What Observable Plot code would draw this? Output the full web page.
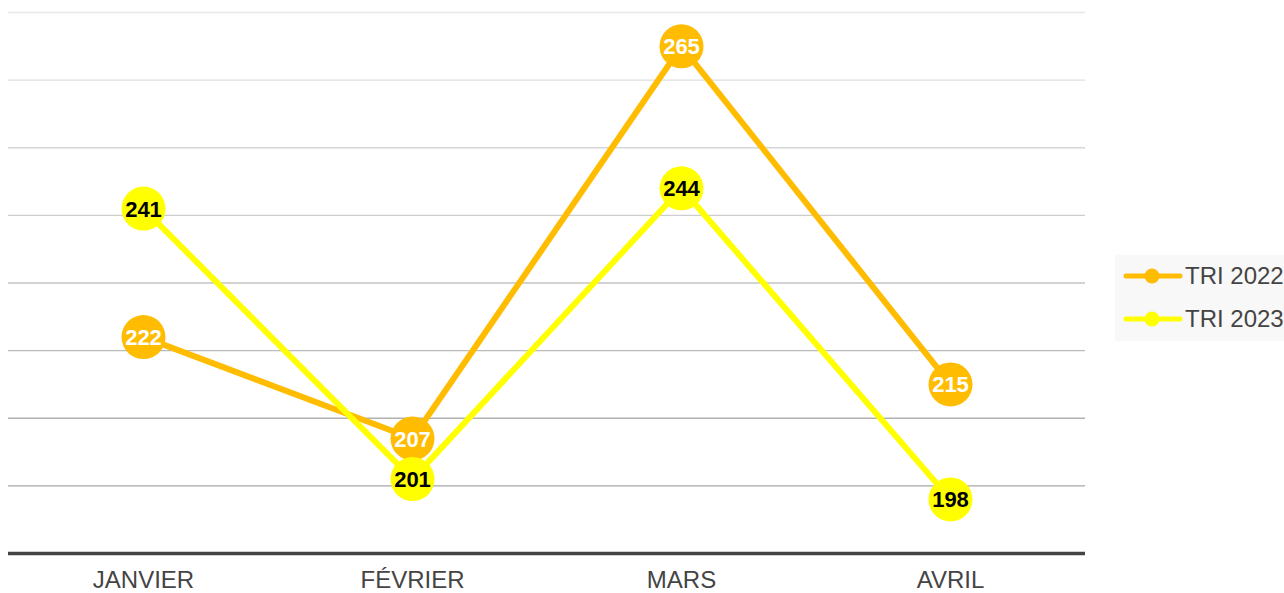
<!DOCTYPE html>
<html>
<head>
<meta charset="utf-8">
<script src="https://cdn.jsdelivr.net/npm/d3@7"></script>
<script src="https://cdn.jsdelivr.net/npm/@observablehq/plot@0.6"></script>
<style>
  html, body { margin: 0; padding: 0; background: #fff; }
  #wrap { position: relative; width: 1284px; height: 593px; font-family: "Liberation Sans", Arial, sans-serif; }
  #legend { position: absolute; left: 1115px; top: 255px; width: 169px; height: 86px; background: #f8f8f8; }
  .item { position: absolute; left: 8px; height: 28px; display: flex; align-items: center; font-size: 24px; color: #444; white-space: nowrap; }
  .item svg { margin-right: 2px; }
</style>
</head>
<body>
<div id="wrap"></div>
<script>
const months = ["JANVIER", "FÉVRIER", "MARS", "AVRIL"];
const series = ["TRI 2022", "TRI 2023"];
const tri2022 = [222, 207, 265, 215];
const tri2023 = [241, 201, 244, 198];
const gridTicks = [200, 210, 220, 230, 240, 250, 260, 270];
const colors = {"TRI 2022": "#FFBC00", "TRI 2023": "#FFFF00"};
const labelColors = {"TRI 2022": "#FFFFFF", "TRI 2023": "#000000"};

const rows = [];
series.forEach((s, si) => {
  const vals = si === 0 ? tri2022 : tri2023;
  months.forEach((m, i) => rows.push({series: s, month: m, value: vals[i]}));
});
const gridColor = d3.interpolateRgb("#e8e8e8", "#a8a8a8");

const marks = [
  Plot.ruleY(gridTicks, {stroke: (d) => gridColor(1 - (d - 200) / 70), strokeWidth: 1.3}),
  Plot.ruleY([190], {stroke: "#444", strokeWidth: 3.5}),
  Plot.axisX({tickSize: 0, tickPadding: 17, fontSize: 24, fill: "#444", fontFamily: "Liberation Sans, Arial, sans-serif"})
];
series.forEach(s => {
  const data = rows.filter(r => r.series === s);
  marks.push(Plot.line(data, {x: "month", y: "value", stroke: colors[s], strokeWidth: 6, curve: "linear"}));
  marks.push(Plot.dot(data, {x: "month", y: "value", r: 22, fill: colors[s], stroke: "none"}));
});
series.forEach(s => {
  const data = rows.filter(r => r.series === s);
  marks.push(Plot.text(data, {x: "month", y: "value", text: d => String(d.value), fill: labelColors[s], fontSize: 22, fontWeight: "bold", fontFamily: "Liberation Sans, Arial, sans-serif", dy: 1}));
});

const chart = Plot.plot({
  width: 1284,
  height: 593,
  marginLeft: 8,
  marginRight: 199,
  marginTop: 12,
  marginBottom: 40,
  x: {type: "point", domain: months, padding: 0.5, label: null},
  y: {domain: [190, 270], axis: null},
  style: {background: "transparent", fontFamily: "Liberation Sans, Arial, sans-serif"},
  marks
});
const wrap = document.getElementById("wrap");
wrap.appendChild(chart);

const legend = document.createElement("div");
legend.id = "legend";
series.forEach((s, i) => {
  const item = document.createElement("div");
  item.className = "item";
  item.style.top = (7 + i * 43) + "px";
  item.innerHTML = `<svg width="60" height="18"><line x1="3" y1="9" x2="57" y2="9" stroke="${colors[s]}" stroke-width="5" stroke-linecap="round"/><circle cx="29" cy="9" r="7.5" fill="${colors[s]}"/></svg><span>${s}</span>`;
  legend.appendChild(item);
});
wrap.appendChild(legend);
</script>
</body>
</html>
